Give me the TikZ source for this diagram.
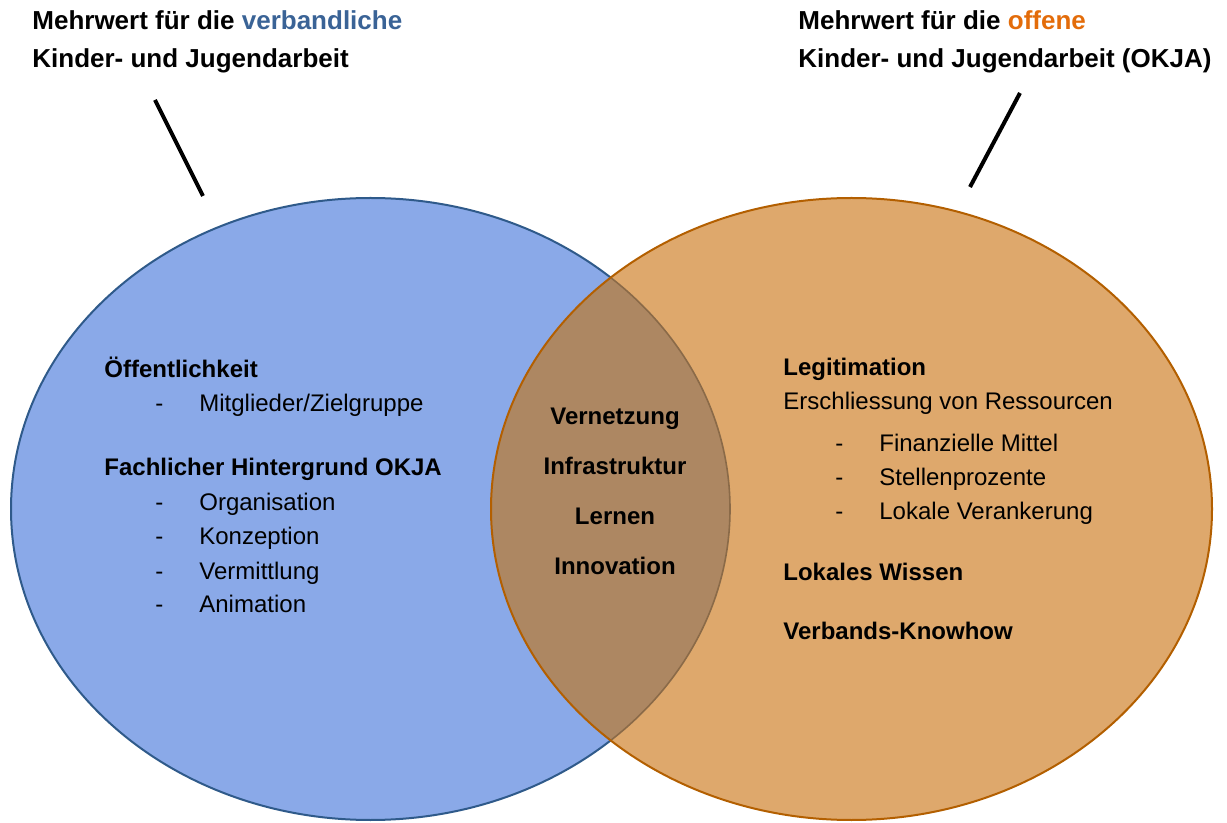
\documentclass[tikz,border=0pt]{standalone}
\usepackage{fontspec}
\setmainfont{Liberation Sans}
\definecolor{verbandfill}{HTML}{8AA9E8}
\definecolor{verbandline}{HTML}{2F5A8A}
\definecolor{verbandtext}{HTML}{3A6396}
\definecolor{offenfill}{HTML}{DEA86C}
\definecolor{offenline}{HTML}{B35F00}
\definecolor{offentext}{HTML}{E36C0A}
\definecolor{lensfill}{HTML}{AD8762}
\definecolor{lensline}{HTML}{8A6A48}
\tikzset{
  titletext/.style={anchor=west, inner sep=0pt, text height=0.72em, text depth=0pt,
    font=\fontsize{13}{15}\selectfont\bfseries},
  headtext/.style={anchor=west, inner sep=0pt, text height=0.72em, text depth=0pt,
    font=\fontsize{12}{14}\selectfont\bfseries},
  itemtext/.style={anchor=west, inner sep=0pt, text height=0.72em, text depth=0pt,
    font=\fontsize{12}{14}\selectfont},
  lenstext/.style={anchor=center, inner sep=0pt, text height=0.72em, text depth=0pt,
    font=\fontsize{12}{14}\selectfont\bfseries},
}
\newcommand{\dashitem}[1]{\makebox[22pt][l]{-}#1}
\begin{document}
\begin{tikzpicture}[x=0.5pt,y=-0.5pt]
\useasboundingbox (0,0) rectangle (1227,823);

% the two sets
\fill[verbandfill] (370.5,509) ellipse [x radius=179.75pt, y radius=155.5pt];
\draw[verbandline, line width=1pt] (370.5,509) ellipse [x radius=179.75pt, y radius=155.5pt];
\fill[offenfill] (851.5,509) ellipse [x radius=180.25pt, y radius=155.5pt];

% overlap
\begin{scope}
\clip (370.5,509) ellipse [x radius=179.75pt, y radius=155.5pt];
\fill[lensfill] (851.5,509) ellipse [x radius=180.25pt, y radius=155.5pt];
\end{scope}
\begin{scope}
\clip (851.5,509) ellipse [x radius=180.25pt, y radius=155.5pt];
\draw[lensline, line width=0.8pt] (370.5,509) ellipse [x radius=179.75pt, y radius=155.5pt];
\end{scope}
\draw[offenline, line width=1pt] (851.5,509) ellipse [x radius=180.25pt, y radius=155.5pt];

% titles
\node[titletext] (verband1) at (32,22) {Mehrwert für die \textcolor{verbandtext}{verbandliche}};
\node[titletext] (verband2) at (32,60) {Kinder- und Jugendarbeit};
\node[titletext] (offen1) at (798,22) {Mehrwert für die \textcolor{offentext}{offene}};
\node[titletext] (offen2) at (798,60) {Kinder- und Jugendarbeit (OKJA)};

\coordinate (verbandtop) at (155,100);
\coordinate (verbandset) at (203,196);
\coordinate (offentop) at (1020,93);
\coordinate (offenset) at (970,187);
\draw[line width=2pt] (verbandtop) -- (verbandset);
\draw[line width=2pt] (offentop) -- (offenset);

% left set
\node[headtext] (oeff) at (104,370) {Öffentlichkeit};
\node[itemtext] (mitgl) at (155,404) {\dashitem{Mitglieder/Zielgruppe}};
\node[headtext] (fach) at (104,468) {Fachlicher Hintergrund OKJA};
\node[itemtext] (orga) at (155,503) {\dashitem{Organisation}};
\node[itemtext] (konz) at (155,537) {\dashitem{Konzeption}};
\node[itemtext] (verm) at (155,572) {\dashitem{Vermittlung}};
\node[itemtext] (anim) at (155,605) {\dashitem{Animation}};

% overlap
\node[lenstext] (vernetz) at (615,417) {Vernetzung};
\node[lenstext] (infra) at (615,467) {Infrastruktur};
\node[lenstext] (lernen) at (615,517) {Lernen};
\node[lenstext] (innov) at (615,567) {Innovation};

% right set
\node[headtext] (legit) at (783,368) {Legitimation};
\node[itemtext] (ressourcen) at (783,402) {Erschliessung von Ressourcen};
\node[itemtext] (finanz) at (835,444) {\dashitem{Finanzielle Mittel}};
\node[itemtext] (stellen) at (835,478) {\dashitem{Stellenprozente}};
\node[itemtext] (veranker) at (835,512) {\dashitem{Lokale Verankerung}};
\node[headtext] (wissen) at (783,573) {Lokales Wissen};
\node[headtext] (knowhow) at (783,632) {Verbands-Knowhow};

\end{tikzpicture}
\end{document}
